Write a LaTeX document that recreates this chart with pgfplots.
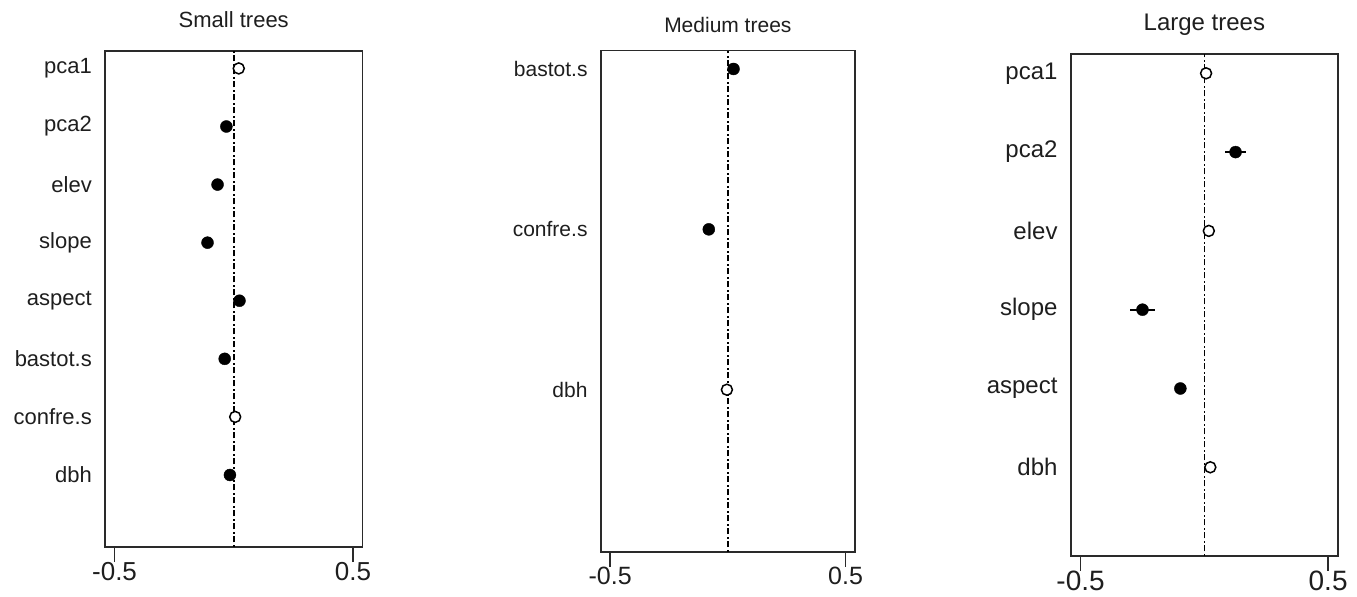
\documentclass[border=0pt]{standalone}
\usepackage{fontspec}
\setmainfont{Liberation Sans}
\usepackage{pgfplots}
\pgfplotsset{compat=1.18}
\definecolor{frame}{HTML}{2A2A2A}
\definecolor{txt}{HTML}{1E1E1E}
\pgfplotsset{
  panel/.style={
    scale only axis, anchor=south west,
    xmin=-0.54, xmax=0.54,
    xtick={-0.5,0.5}, xticklabels={-0.5,0.5},
    tick align=outside, xtick pos=bottom,
    major tick length=15bp,
    ytick pos=left,
    ytick style={draw=none},
    xtick style={line width=1.6bp, color=frame},
    axis line style={line width=1.6bp, color=frame},
    yticklabel style={anchor=east, inner sep=0pt, xshift=2bp, text=txt},
    xticklabel style={anchor=north, inner sep=0pt, text=txt},
    title style={anchor=base, at={(0.5,1)}, inner sep=0pt, text=txt},
    clip=false,
  },
  zeroline/.style={line width=1.6bp, color=black, dash pattern=on 2bp off 2.5bp on 6bp off 2.5bp},
  filled/.style={only marks, mark=*, mark size=6bp, mark options={fill=black, draw=black}},
  open/.style={only marks, mark=*, mark size=5.5bp, mark options={fill=white, draw=black, line width=1.5bp}},
}
\begin{document}
\begin{tikzpicture}
\useasboundingbox (0,0) rectangle (1357bp,597bp);
% ---------------- Small trees
\begin{axis}[panel,
  at={(105bp,50bp)}, width=257.5bp, height=496bp,
  ymin=-0.24, ymax=8.30,
  ytick={1,2,3,4,5,6,7,8},
  yticklabels={dbh,confre.s,bastot.s,aspect,slope,elev,pca2,pca1},
  yticklabel style={font=\fontsize{22bp}{26bp}\selectfont},
  xticklabel style={font=\fontsize{26bp}{30bp}\selectfont},
  title={Small trees},
  title style={font=\fontsize{22bp}{26bp}\selectfont, yshift=18bp},
]
\addplot[zeroline] coordinates {(0,-0.24) (0,8.30)};
\addplot[filled] coordinates {(-0.031,7) (-0.068,6) (-0.110,5) (0.024,4) (-0.038,3) (-0.016,1)};
\addplot[open] coordinates {(0.021,8) (0.006,2)};
\end{axis}
% ---------------- Medium trees
\begin{axis}[panel,
  at={(600.7bp,45.3bp)}, width=254.3bp, height=501bp,
  ymin=-0.01, ymax=3.114,
  ytick={1,2,3},
  yticklabels={dbh,confre.s,bastot.s},
  yticklabel style={font=\fontsize{21bp}{25bp}\selectfont},
  xticklabel style={font=\fontsize{25bp}{29bp}\selectfont},
  title={Medium trees},
  title style={font=\fontsize{21bp}{25bp}\selectfont, yshift=12.5bp},
]
\addplot[zeroline] coordinates {(0,-0.01) (0,3.114)};
\addplot[filled] coordinates {(0.024,3) (-0.081,2)};
\addplot[open] coordinates {(-0.004,1)};
\end{axis}
% ---------------- Large trees
\begin{axis}[panel,
  at={(1070.7bp,41bp)}, width=267.3bp, height=502bp,
  ymin=-0.126, ymax=6.245,
  ytick={1,2,3,4,5,6},
  yticklabels={dbh,aspect,slope,elev,pca2,pca1},
  yticklabel style={font=\fontsize{24bp}{28bp}\selectfont},
  xticklabel style={font=\fontsize{28bp}{32bp}\selectfont},
  title={Large trees},
  title style={font=\fontsize{24bp}{28bp}\selectfont, yshift=17.5bp},
]
\addplot[zeroline] coordinates {(0,-0.126) (0,6.245)};
\addplot[filled, error bars/.cd, x dir=both, x explicit, error mark=none,
  error bar style={line width=2bp, color=black}]
  coordinates {(0.126,5) +- (0.044,0) (-0.250,3) +- (0.049,0)};
\addplot[filled] coordinates {(-0.097,2)};
\addplot[open] coordinates {(0.007,6) (0.018,4) (0.024,1)};
\end{axis}
\end{tikzpicture}
\end{document}
